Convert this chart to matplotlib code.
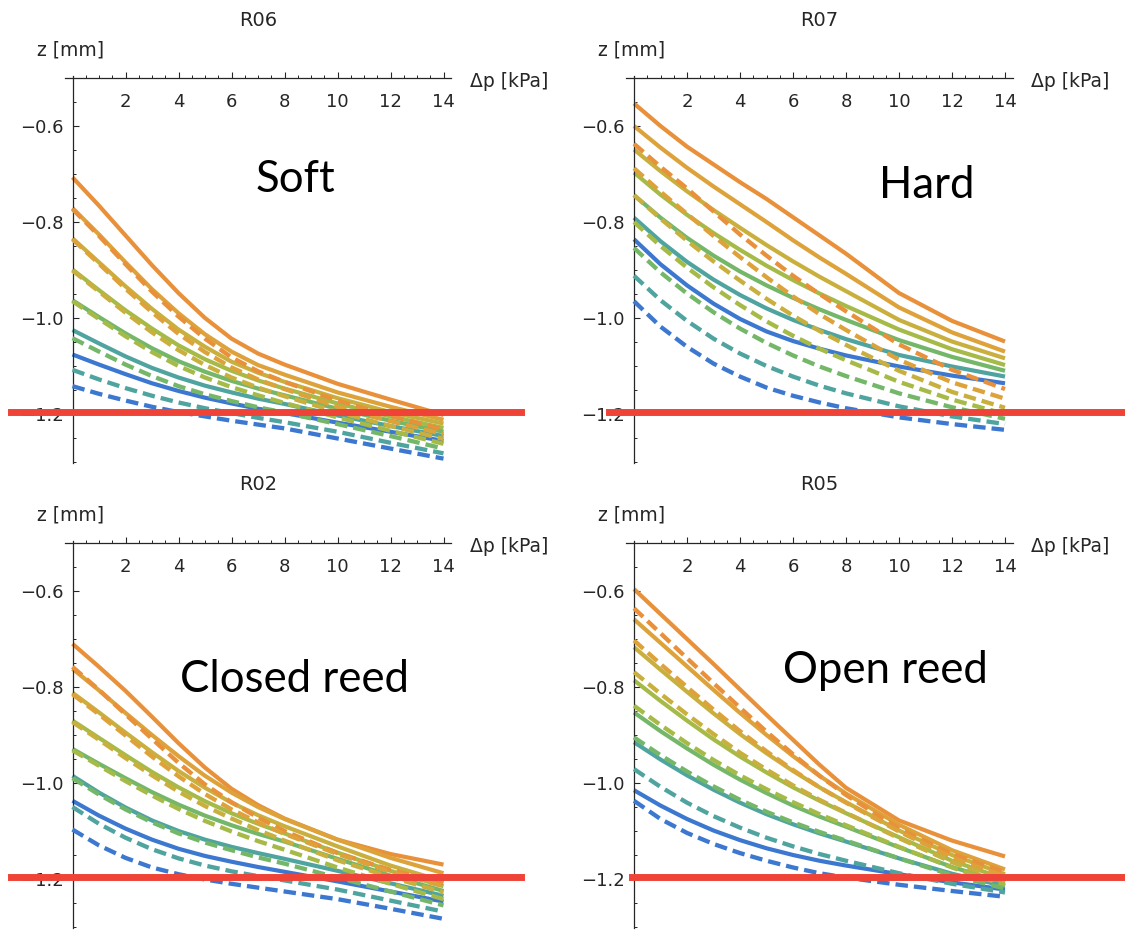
import matplotlib
matplotlib.use("Agg")
import matplotlib.pyplot as plt
from matplotlib.ticker import FixedLocator

plt.rcParams["font.family"] = ["DejaVu Sans"]

# pressure difference grid the curves were read at [kPa]
DP = [0, 1, 2, 3, 4, 5, 6, 7, 8, 10, 12, 14]
# colour of the 7 curve pairs, top (orange) to bottom (blue)
COLORS = ["#e8913a", "#dda23a", "#c9b03e", "#a6ba48", "#74b769", "#4fa4a0", "#3c78cf"]
RED_Z = -1.195

R06_SOLID = [
    [-0.707, -0.766, -0.828, -0.890, -0.948, -1.000, -1.043, -1.074, -1.097, -1.137, -1.170, -1.202],
    [-0.771, -0.826, -0.884, -0.940, -0.990, -1.034, -1.070, -1.098, -1.118, -1.155, -1.185, -1.212],
    [-0.834, -0.884, -0.934, -0.981, -1.024, -1.060, -1.091, -1.114, -1.133, -1.167, -1.196, -1.220],
    [-0.899, -0.942, -0.984, -1.022, -1.057, -1.086, -1.110, -1.130, -1.147, -1.178, -1.205, -1.229],
    [-0.963, -0.998, -1.032, -1.063, -1.090, -1.112, -1.131, -1.147, -1.161, -1.189, -1.214, -1.237],
    [-1.025, -1.053, -1.080, -1.104, -1.124, -1.141, -1.155, -1.168, -1.179, -1.203, -1.225, -1.246],
    [-1.076, -1.097, -1.117, -1.136, -1.152, -1.166, -1.178, -1.189, -1.198, -1.218, -1.237, -1.256],
]
R06_DASHED = [
    [-0.773, -0.829, -0.888, -0.945, -0.997, -1.043, -1.082, -1.111, -1.133, -1.172, -1.204, -1.232],
    [-0.836, -0.887, -0.939, -0.988, -1.033, -1.071, -1.103, -1.128, -1.148, -1.185, -1.215, -1.242],
    [-0.901, -0.945, -0.989, -1.030, -1.067, -1.098, -1.124, -1.145, -1.163, -1.196, -1.225, -1.252],
    [-0.965, -1.002, -1.038, -1.071, -1.100, -1.124, -1.144, -1.161, -1.177, -1.207, -1.235, -1.262],
    [-1.042, -1.070, -1.097, -1.121, -1.142, -1.159, -1.173, -1.186, -1.197, -1.221, -1.246, -1.272],
    [-1.108, -1.128, -1.146, -1.162, -1.176, -1.188, -1.198, -1.208, -1.217, -1.237, -1.260, -1.282],
    [-1.142, -1.158, -1.172, -1.185, -1.196, -1.205, -1.214, -1.222, -1.230, -1.251, -1.272, -1.293],
]

R07_SOLID = [
    [-0.553, -0.600, -0.643, -0.680, -0.717, -0.752, -0.790, -0.828, -0.866, -0.948, -1.006, -1.049],
    [-0.600, -0.645, -0.687, -0.726, -0.763, -0.800, -0.838, -0.874, -0.908, -0.978, -1.030, -1.070],
    [-0.649, -0.694, -0.736, -0.775, -0.812, -0.848, -0.882, -0.914, -0.944, -1.004, -1.049, -1.084],
    [-0.697, -0.743, -0.785, -0.823, -0.858, -0.891, -0.921, -0.949, -0.975, -1.024, -1.065, -1.098],
    [-0.744, -0.791, -0.833, -0.870, -0.903, -0.932, -0.958, -0.982, -1.004, -1.046, -1.081, -1.110],
    [-0.791, -0.840, -0.883, -0.920, -0.952, -0.980, -1.004, -1.025, -1.044, -1.077, -1.101, -1.122],
    [-0.836, -0.888, -0.932, -0.970, -1.002, -1.028, -1.048, -1.064, -1.078, -1.101, -1.120, -1.136],
]
R07_DASHED = [
    [-0.637, -0.685, -0.730, -0.778, -0.826, -0.870, -0.912, -0.950, -0.986, -1.055, -1.108, -1.148],
    [-0.688, -0.737, -0.783, -0.829, -0.873, -0.915, -0.955, -0.992, -1.025, -1.087, -1.134, -1.168],
    [-0.744, -0.793, -0.839, -0.882, -0.922, -0.960, -0.995, -1.027, -1.056, -1.110, -1.154, -1.187],
    [-0.800, -0.850, -0.895, -0.936, -0.973, -1.007, -1.037, -1.064, -1.088, -1.133, -1.170, -1.200],
    [-0.854, -0.905, -0.949, -0.988, -1.022, -1.052, -1.078, -1.101, -1.121, -1.157, -1.186, -1.210],
    [-0.912, -0.963, -1.006, -1.043, -1.074, -1.100, -1.122, -1.141, -1.157, -1.184, -1.205, -1.221],
    [-0.965, -1.018, -1.060, -1.095, -1.122, -1.145, -1.162, -1.176, -1.188, -1.207, -1.221, -1.233],
]

R02_SOLID = [
    [-0.710, -0.758, -0.808, -0.862, -0.917, -0.968, -1.012, -1.046, -1.074, -1.118, -1.148, -1.170],
    [-0.762, -0.807, -0.854, -0.900, -0.944, -0.985, -1.020, -1.050, -1.075, -1.118, -1.156, -1.188],
    [-0.812, -0.853, -0.895, -0.936, -0.975, -1.010, -1.041, -1.067, -1.090, -1.132, -1.172, -1.205],
    [-0.870, -0.906, -0.942, -0.977, -1.009, -1.038, -1.063, -1.085, -1.105, -1.145, -1.183, -1.215],
    [-0.929, -0.960, -0.990, -1.019, -1.045, -1.068, -1.088, -1.106, -1.122, -1.158, -1.193, -1.225],
    [-0.985, -1.020, -1.051, -1.078, -1.100, -1.118, -1.133, -1.146, -1.158, -1.183, -1.209, -1.235],
    [-1.037, -1.068, -1.095, -1.118, -1.137, -1.152, -1.164, -1.175, -1.185, -1.205, -1.226, -1.247],
]
R02_DASHED = [
    [-0.758, -0.806, -0.857, -0.908, -0.958, -1.003, -1.040, -1.072, -1.100, -1.146, -1.181, -1.208],
    [-0.815, -0.857, -0.901, -0.945, -0.986, -1.023, -1.055, -1.082, -1.106, -1.148, -1.185, -1.215],
    [-0.873, -0.910, -0.948, -0.984, -1.018, -1.048, -1.074, -1.098, -1.120, -1.161, -1.196, -1.228],
    [-0.932, -0.964, -0.996, -1.026, -1.054, -1.079, -1.101, -1.121, -1.139, -1.176, -1.210, -1.242],
    [-0.990, -1.024, -1.055, -1.082, -1.105, -1.124, -1.140, -1.155, -1.168, -1.197, -1.226, -1.255],
    [-1.050, -1.085, -1.114, -1.138, -1.157, -1.172, -1.184, -1.194, -1.203, -1.222, -1.245, -1.268],
    [-1.097, -1.130, -1.156, -1.176, -1.190, -1.201, -1.210, -1.218, -1.226, -1.242, -1.262, -1.283],
]

R05_SOLID = [
    [-0.596, -0.648, -0.700, -0.752, -0.805, -0.858, -0.910, -0.962, -1.010, -1.078, -1.120, -1.153],
    [-0.659, -0.708, -0.757, -0.806, -0.854, -0.900, -0.944, -0.985, -1.022, -1.087, -1.140, -1.180],
    [-0.717, -0.764, -0.810, -0.855, -0.898, -0.938, -0.975, -1.009, -1.040, -1.099, -1.150, -1.190],
    [-0.786, -0.829, -0.870, -0.909, -0.945, -0.978, -1.009, -1.037, -1.063, -1.113, -1.162, -1.200],
    [-0.853, -0.892, -0.928, -0.962, -0.993, -1.021, -1.047, -1.070, -1.091, -1.134, -1.175, -1.208],
    [-0.915, -0.951, -0.984, -1.014, -1.041, -1.065, -1.086, -1.105, -1.122, -1.157, -1.189, -1.215],
    [-1.015, -1.047, -1.075, -1.099, -1.119, -1.136, -1.150, -1.162, -1.172, -1.190, -1.207, -1.222],
]
R05_DASHED = [
    [-0.636, -0.688, -0.740, -0.792, -0.843, -0.893, -0.940, -0.985, -1.025, -1.095, -1.148, -1.185],
    [-0.703, -0.752, -0.800, -0.847, -0.892, -0.934, -0.973, -1.009, -1.041, -1.101, -1.155, -1.195],
    [-0.769, -0.814, -0.857, -0.898, -0.937, -0.972, -1.005, -1.035, -1.062, -1.115, -1.165, -1.205],
    [-0.839, -0.879, -0.917, -0.952, -0.984, -1.013, -1.040, -1.065, -1.088, -1.133, -1.176, -1.213],
    [-0.905, -0.942, -0.976, -1.007, -1.035, -1.060, -1.082, -1.102, -1.120, -1.157, -1.192, -1.220],
    [-0.971, -1.008, -1.041, -1.069, -1.093, -1.114, -1.132, -1.148, -1.162, -1.188, -1.210, -1.228],
    [-1.037, -1.075, -1.104, -1.127, -1.146, -1.162, -1.176, -1.188, -1.197, -1.212, -1.225, -1.237],
]

W, H = 1125, 930
PX_X, PX_Y = 26.5, 480.0          # pixels per kPa / per mm
XLIM, YLIM = (-0.3, 14.3), (-1.302, -0.496)
AX_COL = "#262626"

# name, tag, solid, dashed, pixel of (0, -0.5), red line extent in px, tag baseline px
PANELS = [
    ("R06", "Soft", R06_SOLID, R06_DASHED, (72.5, 78), (11, 521), (295, 192)),
    ("R07", "Hard", R07_SOLID, R07_DASHED, (634, 78), (609, 1122), (927, 198)),
    ("R02", "Closed reed", R02_SOLID, R02_DASHED, (72.5, 543), (11, 521), (295, 692)),
    ("R05", "Open reed", R05_SOLID, R05_DASHED, (634, 543), (632, 1125), (885, 683)),
]

fig = plt.figure(figsize=(W / 100, H / 100), dpi=100)

for name, tag, solid, dashed, (ox, oy), (r0, r1), (tx, ty) in PANELS:
    left = ox + XLIM[0] * PX_X
    width = (XLIM[1] - XLIM[0]) * PX_X
    top = oy - (YLIM[1] + 0.5) * PX_Y
    height = (YLIM[1] - YLIM[0]) * PX_Y
    ax = fig.add_axes([left / W, 1 - (top + height) / H, width / W, height / H])
    ax.set_xlim(*XLIM); ax.set_ylim(*YLIM)
    ax.patch.set_alpha(0)

    for i, ys in enumerate(solid):
        ax.plot(DP, ys, color=COLORS[i], lw=3.0, solid_capstyle="butt",
                solid_joinstyle="round", zorder=2)
    for i, ys in enumerate(dashed):
        ax.plot(DP, ys, color=COLORS[i], lw=3.1, dashes=(2.9, 1.4), dash_capstyle="butt", zorder=3)

    # Mathematica style axes crossing at (0, -0.5)
    for s in ("right", "top"):
        ax.spines[s].set_visible(False)
    ax.spines["left"].set_position(("data", 0))
    ax.spines["bottom"].set_position(("data", -0.5))
    for s in ("left", "bottom"):
        ax.spines[s].set_color(AX_COL); ax.spines[s].set_linewidth(0.9)
    ax.xaxis.set_major_locator(FixedLocator([2, 4, 6, 8, 10, 12, 14]))
    ax.xaxis.set_minor_locator(FixedLocator([k * 0.5 for k in range(1, 29) if k % 4]))
    ax.yaxis.set_major_locator(FixedLocator([-0.6, -0.8, -1.0, -1.2]))
    ax.yaxis.set_minor_locator(FixedLocator([-0.55, -0.65, -0.7, -0.75, -0.85, -0.9, -0.95, -1.05,
                                             -1.1, -1.15, -1.25, -1.3]))
    ax.set_xticklabels(["2", "4", "6", "8", "10", "12", "14"])
    ax.set_yticklabels(["\u22120.6", "\u22120.8", "\u22121.0", "\u22121.2"])
    ax.tick_params(axis="x", which="major", direction="in", length=4, width=0.8, pad=11,
                   labelsize=13, colors=AX_COL)
    ax.tick_params(axis="y", which="major", direction="in", length=4, width=0.8, pad=6.5,
                   labelsize=13, colors=AX_COL)
    ax.tick_params(which="minor", direction="in", length=2.2, width=0.7, colors=AX_COL)

    ax.annotate(name, xy=(7, -0.5), xytext=(0, 58), textcoords="offset pixels",
                ha="center", va="center", fontsize=14, color=AX_COL)
    ax.annotate("z [mm]", xy=(0, -0.5), xytext=(-2, 28), textcoords="offset pixels",
                ha="center", va="center", fontsize=13.5, color=AX_COL)
    ax.annotate("\u0394p [kPa]", xy=(14, -0.5), xytext=(26, -3), textcoords="offset pixels",
                ha="left", va="center", fontsize=13.5, color=AX_COL)

    ax.axhline(RED_Z, xmin=(r0 - left) / width, xmax=(r1 - left) / width,
               color="#ef4338", lw=5.0, clip_on=False, zorder=5)

    fig.text(tx / W, 1 - ty / H, tag, ha="center", va="baseline", fontsize=31.5,
             family=["Lato", "DejaVu Sans"], color="black", zorder=6)

fig.savefig("out.png", dpi=100)
